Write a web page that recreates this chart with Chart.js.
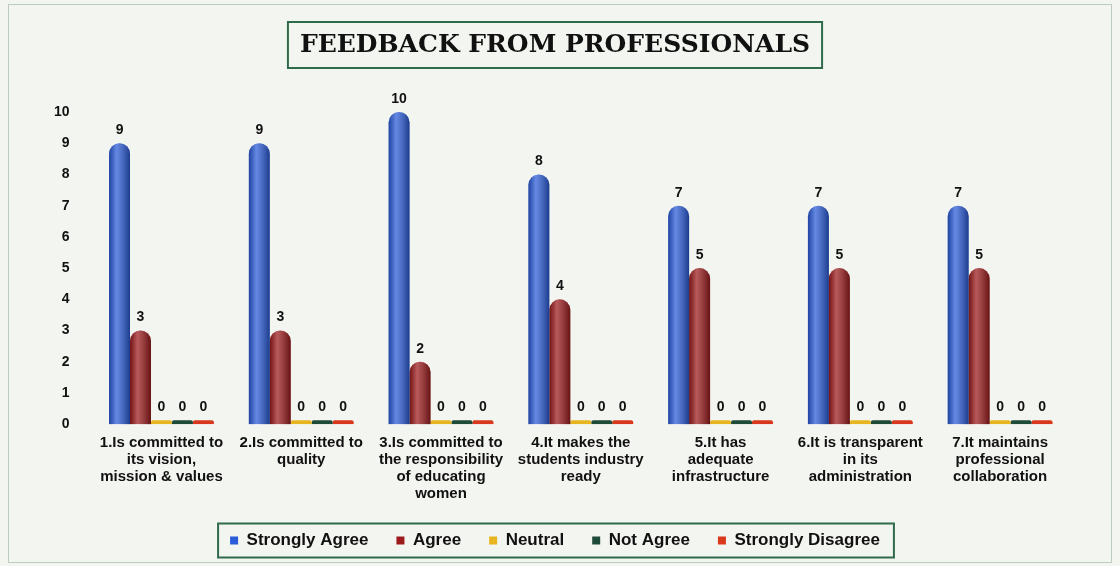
<!DOCTYPE html>
<html>
<head>
<meta charset="utf-8">
<title>Feedback from Professionals</title>
<script src="https://cdn.jsdelivr.net/npm/chart.js@4.4.1/dist/chart.umd.min.js"></script>
<style>
    html, body { margin: 0; padding: 0; background: #f3f5f1; }
    #wrap { width: 1120px; height: 566px; }
</style>
</head>
<body>
<div id="wrap"><canvas id="feedbackChart" width="1120" height="566"></canvas></div>
<script>
// Feedback chart data
const categories = [
    ['1.Is committed to', 'its vision,', 'mission & values'],
    ['2.Is committed to', 'quality'],
    ['3.Is committed to', 'the responsibility', 'of educating', 'women'],
    ['4.It makes the', 'students industry', 'ready'],
    ['5.It has', 'adequate', 'infrastructure'],
    ['6.It is transparent', 'in its', 'administration'],
    ['7.It maintains', 'professional', 'collaboration']
];
const stronglyAgree = [9, 9, 10, 8, 7, 7, 7];
const agree = [3, 3, 2, 4, 5, 5, 5];
const neutral = [0, 0, 0, 0, 0, 0, 0];
const notAgree = [0, 0, 0, 0, 0, 0, 0];
const stronglyDisagree = [0, 0, 0, 0, 0, 0, 0];
const yTicks = [0, 1, 2, 3, 4, 5, 6, 7, 8, 9, 10];

const blue = '#2a5bd8';
const darkRed = '#9c1a1c';
const yellow = '#e6b51f';
const darkGreen = '#1e4a3a';
const red = '#d8391c';
const boxGreen = '#2f6b4a';
const labelFont = '"Liberation Sans", Arial, sans-serif';

// page background + outer frame
const backgroundPlugin = {
    id: 'background',
    beforeDraw(chart) {
        const c = chart.ctx;
        c.save();
        c.fillStyle = '#f3f5f1';
        c.fillRect(0, 0, chart.width, chart.height);
        c.strokeStyle = '#bccdbf';
        c.lineWidth = 1;
        c.strokeRect(8.5, 4.5, chart.width - 17, chart.height - 8);
        c.restore();
    }
};

// cylinder shading and value labels
const barDecorPlugin = {
    id: 'barDecor',
    afterDatasetsDraw(chart) {
        const c = chart.ctx;
        c.save();
        chart.data.datasets.forEach((ds, di) => {
            const meta = chart.getDatasetMeta(di);
            meta.data.forEach((bar, i) => {
                const w = bar.width;
                const left = bar.x - w / 2;
                const h = bar.base - bar.y;
                if (h > 6) {
                    const g = c.createLinearGradient(left, 0, left + w, 0);
                    g.addColorStop(0, 'rgba(0,0,0,0.25)');
                    g.addColorStop(0.35, 'rgba(255,255,255,0.28)');
                    g.addColorStop(1, 'rgba(0,0,0,0.35)');
                    c.fillStyle = g;
                    c.beginPath();
                    c.roundRect(left, bar.y, w, h, [w / 2, w / 2, 0, 0]);
                    c.fill();
                }
                c.fillStyle = '#111';
                c.font = 'bold 14px ' + labelFont;
                c.textAlign = 'center';
                c.textBaseline = 'bottom';
                c.fillText(ds.data[i], bar.x, bar.y - 6);
            });
        });
        c.restore();
    }
};

// boxes around title and legend
const framePlugin = {
    id: 'frames',
    afterDraw(chart) {
        const c = chart.ctx;
        const tf = chart.options.plugins.title.font;
        c.save();
        c.strokeStyle = boxGreen;
        c.lineWidth = 2;
        const t = chart.titleBlock;
        c.font = tf.weight + ' ' + tf.size + 'px ' + tf.family;
        const tw = c.measureText(chart.options.plugins.title.text).width;
        const cx = (t.left + t.right) / 2;
        c.strokeRect(cx - tw / 2 - 12, 22, tw + 24, 46);
        const boxes = chart.legend.legendHitBoxes;
        if (boxes.length) {
            const l = Math.min(...boxes.map(b => b.left)) - 12;
            const r = Math.max(...boxes.map(b => b.left + b.width)) + 14;
            const mid = boxes[0].top + boxes[0].height / 2;
            c.strokeRect(l, mid - 17, r - l, 34);
        }
        c.restore();
    }
};

document.addEventListener('DOMContentLoaded', function() {
    const ctx = document.getElementById('feedbackChart');
    const makeSet = (label, data, color) => ({
        label: label,
        data: data,
        backgroundColor: color,
        borderWidth: 0,
        borderRadius: { topLeft: 11, topRight: 11, bottomLeft: 0, bottomRight: 0 },
        borderSkipped: 'bottom',
        minBarLength: 4,
        categoryPercentage: 0.75,
        barPercentage: 1.0
    });

    new Chart(ctx, {
        type: 'bar',
        data: {
            labels: categories,
            datasets: [
                makeSet('Strongly Agree', stronglyAgree, blue),
                makeSet('Agree', agree, darkRed),
                makeSet('Neutral', neutral, yellow),
                makeSet('Not Agree', notAgree, darkGreen),
                makeSet('Strongly Disagree', stronglyDisagree, red)
            ]
        },
        options: {
            responsive: false,
            animation: false,
            layout: {
                padding: { left: 40, right: 50, top: 30, bottom: 7 }
            },
            plugins: {
                title: {
                    display: true,
                    text: 'FEEDBACK FROM PROFESSIONALS',
                    color: '#111',
                    font: { family: '"DejaVu Serif", serif', size: 25, weight: 'bold', lineHeight: 1.2 },
                    padding: { top: 0, bottom: 52 }
                },
                legend: {
                    position: 'bottom',
                    labels: {
                        color: '#111',
                        boxWidth: 8,
                        boxHeight: 8,
                        padding: 28,
                        font: { family: labelFont, size: 17, weight: 'bold' }
                    }
                },
                tooltip: { enabled: false }
            },
            scales: {
                x: {
                    grid: { display: false },
                    border: { display: false },
                    ticks: {
                        color: '#111',
                        maxRotation: 0,
                        autoSkip: false,
                        padding: 2,
                        font: { family: labelFont, size: 15, weight: 'bold', lineHeight: 1.13 }
                    }
                },
                y: {
                    min: yTicks[0],
                    max: yTicks[yTicks.length - 1],
                    grid: { display: false },
                    border: { display: false },
                    afterBuildTicks: function(axis) {
                        axis.ticks = yTicks.map(v => ({ value: v }));
                    },
                    ticks: {
                        color: '#111',
                        padding: 14,
                        font: { family: labelFont, size: 14, weight: 'bold' }
                    }
                }
            }
        },
        plugins: [backgroundPlugin, barDecorPlugin, framePlugin]
    });
});
</script>
</body>
</html>
